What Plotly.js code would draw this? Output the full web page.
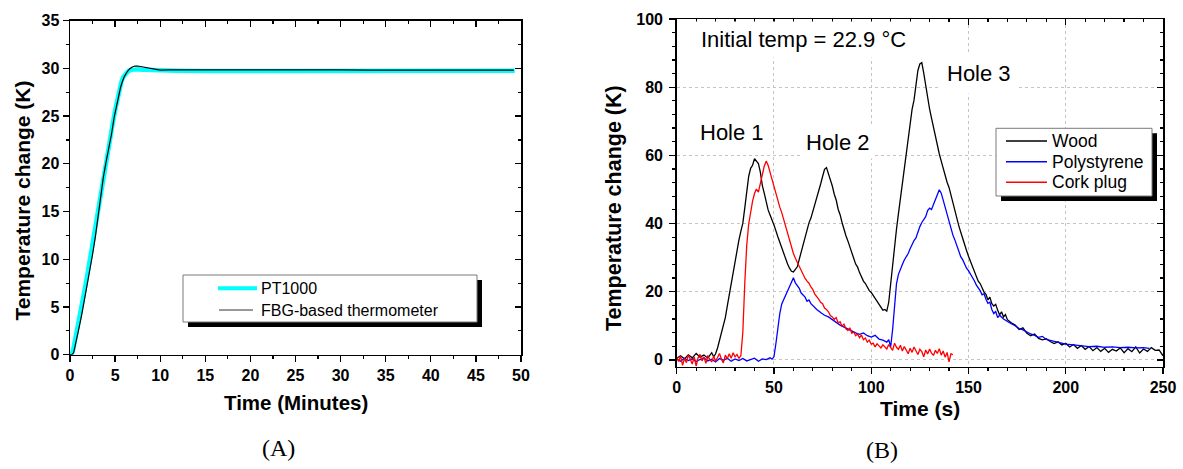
<!DOCTYPE html>
<html>
<head>
<meta charset="utf-8">
<script src="https://cdn.plot.ly/plotly-3.0.1.min.js"></script>
<style>html,body{margin:0;padding:0;background:#fff;}#chart{width:1183px;height:469px;}</style>
</head>
<body>
<div id="chart"></div>
<script>
// ---------- Panel A data (minutes, K) ----------
const ptTime = [0,0.2,0.35,0.5,0.8,1.1,1.4,1.7,2.0,2.3,2.6,2.9,3.2,3.5,3.8,4.1,4.4,4.7,5.0,5.3,5.5,5.7,5.9,6.2,6.5,6.8,7.2,7.6,8.0,9,10,12,15,20,25,30,35,40,45,49.3];
const ptTemp = [0,0.1,0.5,1.2,2.5,4.0,5.6,7.2,8.8,10.5,12.3,14.2,16.1,17.9,19.6,21.1,22.5,24.0,25.6,27.0,27.9,28.6,29.1,29.5,29.75,29.85,29.9,29.9,29.85,29.8,29.75,29.75,29.72,29.74,29.73,29.75,29.74,29.76,29.75,29.76];
const fbgTime = [0,0.2,0.4,0.5,0.7,1.0,1.3,1.6,1.9,2.2,2.5,2.8,3.1,3.4,3.7,4.0,4.3,4.6,4.9,5.2,5.4,5.6,5.8,6.0,6.3,6.6,6.9,7.2,7.5,7.8,8.2,8.6,9.0,9.5,10,11,12,13,14,16,18,20,22,25,28,30,33,36,39,42,45,47,49.2];
const fbgTemp = [0,0,0.2,0.6,1.5,2.8,4.2,5.7,7.2,8.9,10.5,12.3,14.4,16.6,18.6,20.2,21.6,23.1,24.9,26.4,27.2,28.0,28.6,29.1,29.6,29.95,30.15,30.25,30.25,30.2,30.1,30.0,29.95,29.88,29.83,29.85,29.87,29.86,29.85,29.84,29.85,29.83,29.84,29.85,29.83,29.84,29.83,29.84,29.83,29.82,29.83,29.82,29.83];
const seriesA = ["PT1000", "FBG-based thermometer"];

// ---------- Panel B data (s, K) ----------
const woodTime = [0,2,4,6,8,10,12,14,16,18,19,20,21,22,23,24,25,26,27,28,29,30,31,32,33,34,35,36,37,38,39,40,41,42,43,44,45,46,47,48,50,52,54,56,57,58,59,60,61,62,63,64,65,66,67,68,69,70,71,72,73,74,75,76,77,78,79,80,81,82,83,84,85,86,87,88,89,90,91,92,93,94,95,96,97,98,99,100,101,102,103,104,105,106,107,108,109,110,111,112,113,114,115,116,117,118,119,120,121,122,123,124,125,126,127,128,129,130,131,132,133,134,135,136,137,138,139,140,141,142,143,144,145,146,147,148,149,150,151,152,153,154,155,156,157,158,159,160,161,162,163,164,165,166,167,168,169,170,172,174,176,178,180,182,184,186,188,190,192,194,196,198,200,202,204,206,208,210,212,214,216,218,220,222,224,226,228,230,232,234,236,238,240,242,244,246,248,250];
const woodTemp = [0.5,1.2,0.3,1.5,0.6,1.9,0.8,1.4,0.5,2.1,0.9,1.8,3.5,5.8,7.9,9.6,12.4,15.8,19.2,22.6,25.1,28.9,32.6,35.2,37.8,40.1,44.6,49.3,53.8,56.2,57.1,59.0,58.3,57.6,55.1,51.2,48.9,46.3,44.0,42.5,39.6,36.1,32.8,29.6,28.1,26.9,26.0,25.8,26.4,27.3,29.5,31.8,33.9,35.5,37.9,40.2,41.6,43.5,45.2,47.1,49.0,51.6,53.8,55.9,56.4,54.8,53.1,51.0,48.6,46.9,44.2,42.6,40.3,38.1,36.4,34.9,33.0,31.6,29.8,28.1,27.2,25.6,24.3,23.1,22.4,21.2,20.3,19.8,18.9,18.1,17.3,16.4,15.2,14.6,14.8,14.3,16.9,22.6,28.8,33.1,38.4,42.9,47.3,50.2,54.6,59.1,63.8,68.9,73.5,76.2,80.8,84.9,86.8,87.2,84.1,80.2,76.5,73.6,70.9,68.1,65.7,62.8,60.4,58.3,56.0,53.9,52.1,50.6,48.2,46.1,43.6,41.3,39.4,37.5,35.9,34.2,32.1,30.4,29.0,27.6,25.8,24.9,23.1,22.4,21.0,19.9,19.2,17.6,18.4,16.5,15.8,16.3,14.6,13.2,14.1,12.6,13.3,11.8,10.9,10.2,8.9,9.4,7.8,7.1,7.6,6.3,5.9,6.2,5.4,4.8,5.3,4.4,4.9,3.8,4.5,3.4,4.2,3.1,3.9,2.7,3.6,2.5,3.4,2.2,3.1,2.6,3.5,2.1,3.3,2.4,3.8,2.0,3.2,2.5,3.6,2.8,2.9,1.2];
const polyTime = [0,2,4,6,8,10,12,14,16,18,20,22,24,26,28,30,32,34,36,38,40,42,44,46,48,49,50,51,52,53,54,55,56,57,58,59,60,61,62,63,64,65,66,67,68,69,70,72,74,76,78,80,82,84,86,88,90,92,94,96,98,100,102,104,106,108,109,110,111,112,113,114,115,116,117,118,119,120,121,122,123,124,125,126,127,128,129,130,131,132,133,134,135,136,137,138,139,140,141,142,143,144,145,146,147,148,149,150,151,152,153,154,155,156,157,158,159,160,161,162,163,164,165,166,168,170,172,174,176,178,180,182,184,186,188,190,192,194,196,198,200,204,208,212,216,220,224,228,232,236,240,243];
const polyTemp = [0.2,-0.4,0.5,-0.2,0.3,-0.5,0.1,0.6,-0.3,0.2,-0.6,0.4,-0.1,0.5,-0.4,0.3,-0.2,0.4,-0.3,0.2,0.5,-0.4,0.3,0.1,0.6,0.2,0.9,4.8,10.2,13.6,16.4,17.8,18.9,20.1,21.4,22.8,24.1,22.6,21.8,21.0,19.6,19.1,18.4,17.2,17.6,16.5,15.9,14.8,13.9,13.1,12.6,11.9,11.0,10.2,9.6,9.1,8.4,7.9,7.5,7.9,7.1,6.7,7.2,6.1,5.8,5.2,5.9,3.8,8.9,16.2,22.4,25.1,26.8,28.0,29.3,30.1,31.2,32.6,34.1,35.0,35.8,37.6,39.1,40.3,41.2,42.0,43.8,44.5,44.1,45.6,47.2,48.5,49.9,48.9,46.8,44.2,42.1,40.3,38.4,36.6,35.2,33.5,31.4,30.3,29.4,28.1,26.9,26.2,25.3,24.1,23.2,22.0,21.2,20.3,19.1,19.4,17.8,16.6,16.9,14.8,13.6,14.2,12.4,13.1,12.0,11.2,10.6,10.0,9.2,8.8,8.1,7.6,7.2,6.6,6.9,6.0,5.7,5.4,5.1,4.9,4.6,4.4,4.1,3.9,4.0,3.7,3.8,3.6,3.7,3.5,3.6,3.4];
const corkTime = [0,1,2,3,4,5,6,7,8,9,10,11,12,13,14,15,16,17,18,19,20,21,22,23,24,25,26,27,28,29,30,31,32,33,34,35,36,37,38,39,40,41,42,43,44,45,46,47,48,49,50,51,52,53,54,55,56,57,58,59,60,61,62,63,64,65,66,67,68,69,70,71,72,73,74,75,76,77,78,79,80,81,82,83,84,85,86,87,88,89,90,91,92,93,94,95,96,97,98,99,100,101,102,103,104,105,106,107,108,109,110,111,112,113,114,115,116,117,118,119,120,121,122,123,124,125,126,127,128,129,130,131,132,133,134,135,136,137,138,139,140,141,142];
const corkTemp = [0.8,-0.5,1.2,-1.6,0.4,-0.8,1.5,0.2,-1.2,0.9,-1.8,0.6,1.6,-0.3,0.8,-1.0,1.3,0.1,-0.6,1.1,-0.4,0.7,1.9,0.2,-0.9,1.4,0.3,1.8,0.5,2.1,0.9,1.6,0.4,1.3,8.2,22.5,33.6,39.8,43.9,46.6,48.8,50.1,49.2,51.6,54.9,56.8,58.3,57.1,55.0,52.8,50.6,48.9,46.7,44.8,43.2,41.1,39.4,37.0,35.3,33.1,31.2,29.8,28.6,27.4,26.1,25.3,23.9,23.1,22.5,21.4,20.6,19.3,18.7,17.8,16.9,16.5,15.2,14.8,14.1,13.0,12.6,11.9,12.4,10.8,11.2,9.9,10.5,9.1,8.6,9.4,7.8,8.2,7.1,7.6,6.5,7.3,5.9,6.4,5.2,5.8,4.6,4.9,3.8,4.7,4.1,3.5,4.4,3.9,3.2,4.5,3.6,2.8,4.9,3.7,3.1,4.3,2.6,3.9,2.9,1.8,3.4,2.2,3.8,2.5,1.6,3.1,2.4,0.9,2.9,1.7,3.2,2.0,1.3,2.8,1.9,3.3,1.4,2.6,0.8,2.2,-0.6,1.8,1.5];
const seriesB = ["Wood", "Polystyrene", "Cork plug"];
const colorsB = ["#000000", "#0000ff", "#ff0000"];

// ---------- helpers ----------
const W = 1183, H = 469;
const px = x => x / W;
const py = y => 1 - y / H;
const SANS = "Liberation Sans, Arial, sans-serif";
const SERIF = "Liberation Serif, Times New Roman, serif";

const traces = [
  {x: ptTime, y: ptTemp, name: seriesA[0], type: "scatter", mode: "lines",
   line: {color: "#00ffff", width: 4.5}, xaxis: "x", yaxis: "y", showlegend: false},
  {x: fbgTime, y: fbgTemp, name: seriesA[1], type: "scatter", mode: "lines",
   line: {color: "#000000", width: 1.2}, xaxis: "x", yaxis: "y", showlegend: false},
  {x: woodTime, y: woodTemp, name: seriesB[0], type: "scatter", mode: "lines",
   line: {color: colorsB[0], width: 1.3}, xaxis: "x2", yaxis: "y2", showlegend: false},
  {x: polyTime, y: polyTemp, name: seriesB[1], type: "scatter", mode: "lines",
   line: {color: colorsB[1], width: 1.3}, xaxis: "x2", yaxis: "y2", showlegend: false},
  {x: corkTime, y: corkTemp, name: seriesB[2], type: "scatter", mode: "lines",
   line: {color: colorsB[2], width: 1.3}, xaxis: "x2", yaxis: "y2", showlegend: false},
  {x: [], y: [], xaxis: "x3", yaxis: "y3", showlegend: false, hoverinfo: "skip"},
  {x: [], y: [], xaxis: "x4", yaxis: "y4", showlegend: false, hoverinfo: "skip"}
];

const tickFont = {family: SANS, size: 16, color: "#000", weight: "bold"};
function mainAxis(extra) {
  return Object.assign({
    ticks: "outside", ticklen: 6, tickwidth: 1.3, tickcolor: "#000",
    showline: true, linewidth: 1.5, linecolor: "#000", mirror: true,
    showgrid: false, zeroline: false, tickfont: tickFont, fixedrange: true
  }, extra);
}
function mirrorAxis(extra) {
  return Object.assign({
    ticks: "inside", ticklen: 6, tickwidth: 1.3, tickcolor: "#000",
    showline: false, showgrid: false, zeroline: false, showticklabels: false, fixedrange: true
  }, extra);
}
const gridB = {showgrid: true, gridcolor: "#c4c4c4", griddash: "dot", gridwidth: 1};

const layout = {
  width: W, height: H,
  margin: {l: 0, r: 0, t: 0, b: 0},
  paper_bgcolor: "#fff", plot_bgcolor: "#fff",
  showlegend: false,
  xaxis: mainAxis({domain: [px(70), px(521)], anchor: "y", range: [0, 50], tick0: 0, dtick: 5,
    minor: {dtick: 2.5, ticks: "outside", ticklen: 3, tickwidth: 1.2, tickcolor: "#000"}}),
  yaxis: mainAxis({domain: [py(354.7), py(20.7)], anchor: "x", range: [0, 35], tick0: 0, dtick: 5,
    minor: {dtick: 2.5, ticks: "outside", ticklen: 3, tickwidth: 1.2, tickcolor: "#000"}}),
  xaxis3: mirrorAxis({overlaying: "x", anchor: "y", side: "top", range: [0, 50], tick0: 0, dtick: 5,
    minor: {dtick: 2.5, ticks: "inside", ticklen: 3, tickwidth: 1.2, tickcolor: "#000"}}),
  yaxis3: mirrorAxis({overlaying: "y", anchor: "x", side: "right", range: [0, 35], tick0: 0, dtick: 5,
    minor: {dtick: 2.5, ticks: "inside", ticklen: 3, tickwidth: 1.2, tickcolor: "#000"}}),
  xaxis2: mainAxis(Object.assign({domain: [px(676.7), px(1163)], anchor: "y2", range: [0, 250], tick0: 0, dtick: 50,
    minor: {dtick: 10, ticks: "outside", ticklen: 3, tickwidth: 1.2, tickcolor: "#000"}}, gridB)),
  yaxis2: mainAxis(Object.assign({domain: [py(366.7), py(19)], anchor: "x2", range: [-2, 100], tick0: 0, dtick: 20,
    ticklabelstandoff: 3,
    minor: {dtick: 4, ticks: "outside", ticklen: 3, tickwidth: 1.2, tickcolor: "#000"}}, gridB)),
  xaxis4: mirrorAxis({overlaying: "x2", anchor: "y2", side: "top", range: [0, 250], tick0: 0, dtick: 50,
    minor: {dtick: 10, ticks: "inside", ticklen: 3, tickwidth: 1.2, tickcolor: "#000"}}),
  yaxis4: mirrorAxis({overlaying: "y2", anchor: "x2", side: "right", range: [-2, 100], tick0: 0, dtick: 20,
    minor: {dtick: 4, ticks: "inside", ticklen: 3, tickwidth: 1.2, tickcolor: "#000"}}),
  shapes: [],
  annotations: []
};

// axis titles and panel labels
const ann = layout.annotations;
ann.push({xref: "paper", yref: "paper", x: px(21.5), y: py(201), text: "Temperature change (K)", textangle: -90,
  showarrow: false, xanchor: "center", yanchor: "middle", font: {family: SANS, size: 21, weight: "bold", color: "#000"}});
ann.push({xref: "paper", yref: "paper", x: px(295.7), y: py(402), text: "Time (Minutes)",
  showarrow: false, xanchor: "center", yanchor: "middle", font: {family: SANS, size: 20.5, weight: "bold", color: "#000"}});
ann.push({xref: "paper", yref: "paper", x: px(614), y: py(208), text: "Temperature change (K)", textangle: -90,
  showarrow: false, xanchor: "center", yanchor: "middle", font: {family: SANS, size: 21.5, weight: "bold", color: "#000"}});
ann.push({xref: "paper", yref: "paper", x: px(920.4), y: py(408), text: "Time (s)",
  showarrow: false, xanchor: "center", yanchor: "middle", font: {family: SANS, size: 21, weight: "bold", color: "#000"}});
ann.push({xref: "paper", yref: "paper", x: px(278), y: py(448), text: "(A)",
  showarrow: false, xanchor: "center", yanchor: "middle", font: {family: SERIF, size: 24, color: "#000"}});
ann.push({xref: "paper", yref: "paper", x: px(882.4), y: py(450), text: "(B)",
  showarrow: false, xanchor: "center", yanchor: "middle", font: {family: SERIF, size: 24, color: "#000"}});

// in-plot labels of panel B
const labelsB = [
  {text: "Initial temp = 22.9 °C", x: 65.2, y: 94.1, pad: 5},
  {text: "Hole 1", x: 28.6, y: 66.8, pad: 3},
  {text: "Hole 2", x: 82.9, y: 63.8, pad: 3},
  {text: "Hole 3", x: 155.3, y: 83.9, pad: 7}
];
labelsB.forEach(l => ann.push({xref: "x2", yref: "y2", x: l.x, y: l.y, text: l.text, showarrow: false,
  xanchor: "center", yanchor: "middle", bgcolor: "#fff", borderpad: l.pad,
  font: {family: SANS, size: 22, color: "#000"}}));

// legend boxes (drawn with shadow, as in the original)
function legendBox(x0, y0, x1, y1) {
  layout.shapes.push({type: "rect", xref: "paper", yref: "paper", layer: "above",
    x0: px(x0 + 5), x1: px(x1 + 5), y0: py(y0 + 5), y1: py(y1 + 5), fillcolor: "#000", line: {width: 0}});
  layout.shapes.push({type: "rect", xref: "paper", yref: "paper", layer: "above",
    x0: px(x0), x1: px(x1), y0: py(y0), y1: py(y1), fillcolor: "#fff", line: {color: "#7a7a7a", width: 1}});
}
function legendItem(lx0, lx1, ly, color, width, label, tx, size) {
  layout.shapes.push({type: "line", xref: "paper", yref: "paper", layer: "above",
    x0: px(lx0), x1: px(lx1), y0: py(ly), y1: py(ly), line: {color: color, width: width}});
  ann.push({xref: "paper", yref: "paper", x: px(tx), y: py(ly), text: label, showarrow: false,
    xanchor: "left", yanchor: "middle", borderpad: 0, font: {family: SANS, size: size, color: "#000"}});
}
legendBox(183, 275, 477, 322);
legendItem(218, 257, 288.3, "#00ffff", 4, seriesA[0], 259.5, 16);
legendItem(219, 253, 310, "#333", 1, seriesA[1], 259.5, 16);
legendBox(996, 128.3, 1152, 196);
const legYB = [141, 161.7, 182.3];
seriesB.forEach((s, i) => legendItem(1006, 1047, legYB[i], colorsB[i], 1.5, s, 1050.5, 17.5));

Plotly.newPlot("chart", traces, layout, {staticPlot: true, displayModeBar: false});
</script>
</body>
</html>
